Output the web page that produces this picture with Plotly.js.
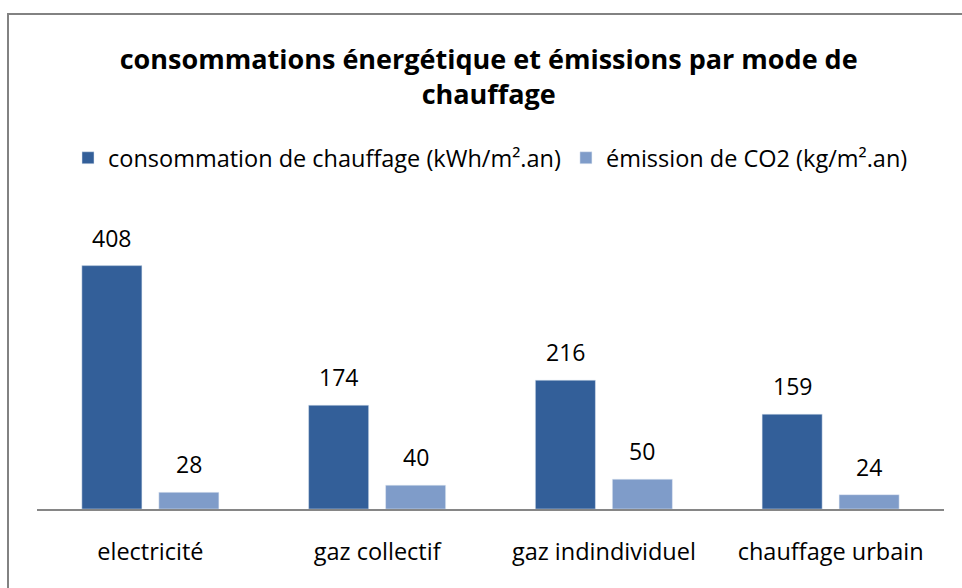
<!DOCTYPE html>
<html>
<head>
<meta charset="utf-8">
<script src="https://cdn.plot.ly/plotly-3.0.1.min.js"></script>
<style>
html,body{margin:0;padding:0;background:#fff;overflow:hidden;}
#frame{position:absolute;left:7px;top:13px;width:1000px;height:1000px;border:2px solid #828282;box-sizing:border-box;pointer-events:none;z-index:5;}
#chart{position:absolute;left:0;top:0;width:962px;height:588px;}
</style>
</head>
<body>
<div id="chart"></div>
<div id="frame"></div>
<script>
const categories = ["electricité", "gaz collectif", "gaz indindividuel", "chauffage urbain"];
const consommation = [408, 174, 216, 159];
const emission = [28, 40, 50, 24];
const seriesNames = ["consommation de chauffage (kWh/m².an)", "émission de CO2 (kg/m².an)"];
const titleText = "consommations énergétique et émissions par mode de<br>chauffage";

const FONT = "'Open Sans', Lato, sans-serif";
const dark = "#335F99";
const light = "#7F9CC9";

const traces = [
  {type: "bar", x: categories, y: consommation, name: seriesNames[0],
   marker: {color: dark, line: {color: "#dfe6f0", width: 0.5}}, hoverinfo: "none"},
  {type: "bar", x: categories, y: emission, name: seriesNames[1],
   marker: {color: light, line: {color: "#e6ecf5", width: 0.5}}, hoverinfo: "none"}
];

const annotations = [];
categories.forEach((c, i) => {
  annotations.push({x: c, y: consommation[i], text: String(consommation[i]), xref: "x", yref: "y",
    xshift: -38.5, yshift: 10, yanchor: "bottom", showarrow: false, font: {family: FONT, size: 23, color: "#000"}});
  annotations.push({x: c, y: emission[i], text: String(emission[i]), xref: "x", yref: "y",
    xshift: 38.5, yshift: 10, yanchor: "bottom", showarrow: false, font: {family: FONT, size: 23, color: "#000"}});
});

const layout = {
  width: 962, height: 588,
  margin: {l: 37, r: 18, t: 200, b: 79},
  paper_bgcolor: "#fff", plot_bgcolor: "#fff",
  title: {text: titleText, font: {family: FONT, size: 27, color: "#000", weight: "bold"},
          x: 0.508, xanchor: "center", y: 0.882, yanchor: "middle"},
  barmode: "group", bargap: 0.321, bargroupgap: 0.22,
  showlegend: true,
  legend: {orientation: "h", x: 0.5, xanchor: "center", y: 1.136, yanchor: "middle",
           font: {family: FONT, size: 23.5, color: "#000"}, traceorder: "normal", itemwidth: 30},
  xaxis: {type: "category", showline: true, linecolor: "#868686", linewidth: 2, ticks: "",
          ticklabelstandoff: 21, tickfont: {family: FONT, size: 23.5, color: "#000"}, showgrid: false, zeroline: false, fixedrange: true},
  yaxis: {range: [0, 518], visible: false, showgrid: false, zeroline: false, fixedrange: true},
  annotations: annotations
};

Plotly.newPlot("chart", traces, layout, {displayModeBar: false, staticPlot: true});
</script>
</body>
</html>
